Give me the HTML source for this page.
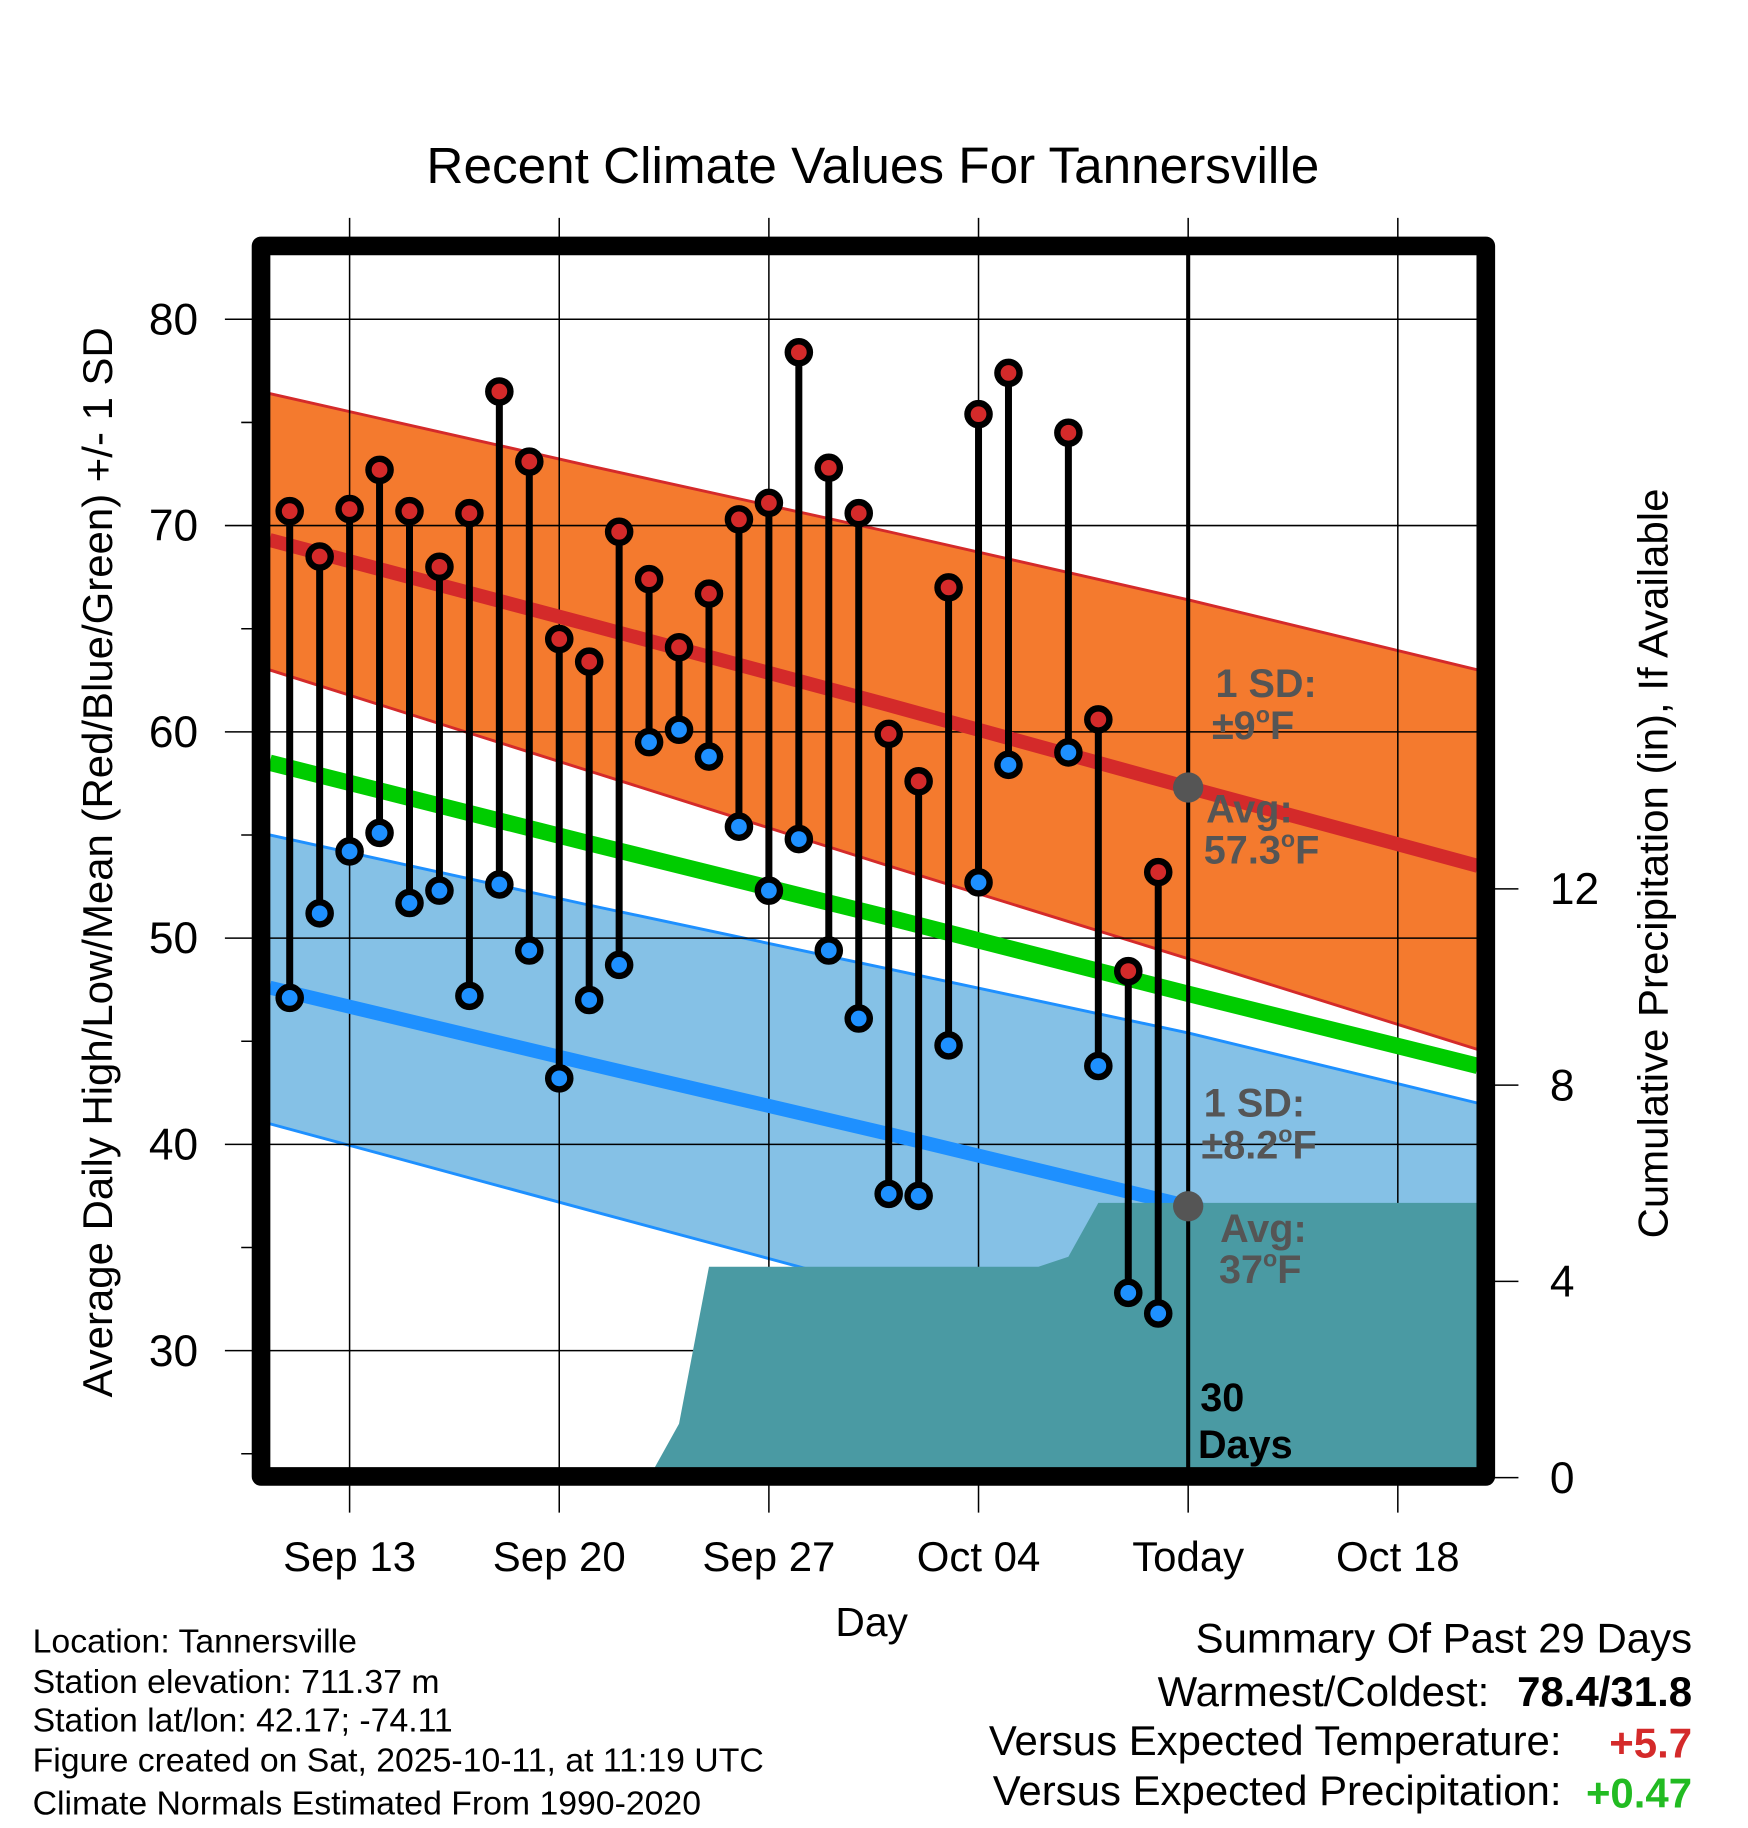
<!DOCTYPE html>
<html><head><meta charset="utf-8">
<style>
html,body{margin:0;padding:0;background:#fff;}
svg{display:block;font-family:"Liberation Sans",Arial,sans-serif;}
</style></head>
<body>
<svg id="chart" width="1748" height="1828" viewBox="0 0 1500 1568.65" xmlns="http://www.w3.org/2000/svg">
<rect x="0" y="0" width="1500" height="1568.65" fill="#fff"/>
<g id="bands"></g>
<g id="grid"></g>
<g id="normlines"></g>
<g id="precip"></g>
<g id="stems"></g>
<g id="overlay"></g>
<text x="749" y="157" font-size="44" text-anchor="middle">Recent Climate Values For Tannersville</text>
<text transform="translate(96,740) rotate(-90)" font-size="36" text-anchor="middle">Average Daily High/Low/Mean (Red/Blue/Green) +/- 1 SD</text>
<text transform="translate(1431,741) rotate(-90)" font-size="36" text-anchor="middle">Cumulative Precipitation (in), If Available</text>
<text x="748" y="1404" font-size="35" text-anchor="middle">Day</text>
<g font-size="29">
<text x="28" y="1418">Location: Tannersville</text>
<text x="28" y="1453">Station elevation: 711.37 m</text>
<text x="28" y="1486">Station lat/lon: 42.17; -74.11</text>
<text x="28" y="1520">Figure created on Sat, 2025-10-11, at 11:19 UTC</text>
<text x="28" y="1557">Climate Normals Estimated From 1990-2020</text>
</g>
<g font-size="36" text-anchor="end">
<text x="1452" y="1418">Summary Of Past 29 Days</text>
<text x="1278" y="1464">Warmest/Coldest:</text>
<text x="1452" y="1464" font-weight="bold">78.4/31.8</text>
<text x="1340" y="1506">Versus Expected Temperature:</text>
<text x="1452" y="1508" font-weight="bold" fill="#d42a2a">+5.7</text>
<text x="1340" y="1549">Versus Expected Precipitation:</text>
<text x="1452" y="1551" font-weight="bold" fill="#22bb22">+0.47</text>
</g>
</svg>
<script>
// ---- data ----
const dayLabels = ["Sep 11","Sep 12","Sep 13","Sep 14","Sep 15","Sep 16","Sep 17","Sep 18","Sep 19","Sep 20","Sep 21","Sep 22","Sep 23","Sep 24","Sep 25","Sep 26","Sep 27","Sep 28","Sep 29","Sep 30","Oct 01","Oct 02","Oct 03","Oct 04","Oct 05","Oct 06","Oct 07","Oct 08","Oct 09","Oct 10"];
const highs = [70.7,68.5,70.8,72.7,70.7,68.0,70.6,76.5,73.1,64.5,63.4,69.7,67.4,64.1,66.7,70.3,71.1,78.4,72.8,70.6,59.9,57.6,67.0,75.4,77.4,null,74.5,60.6,48.4,53.2];
const lows  = [47.1,51.2,54.2,55.1,51.7,52.3,47.2,52.6,49.4,43.2,47.0,48.7,59.5,60.1,58.8,55.4,52.3,54.8,49.4,46.1,37.6,37.5,44.8,52.7,58.4,null,59.0,43.8,32.8,31.8];
const precipCum = [0,0,0,0,0,0,0,0,0,0,0,0,0,1.1,4.3,4.3,4.3,4.3,4.3,4.3,4.3,4.3,4.3,4.3,4.3,4.3,4.5,5.6,5.6,5.6];
// normals at day indices (0 = Sep 11)
const normDays   = [-0.67,10,20,30,39.67];
const normHigh   = [69.3,65.2,61.3,57.3,53.5];
const normHighUp = [76.4,72.9,69.7,66.4,63.0];
const normHighLo = [63.0,58.1,53.5,49.0,44.6];
const normMean   = [58.5,54.6,51.0,47.3,43.8];
const normLow    = [47.6,43.9,40.5,37.0,33.7];
const normLowUp  = [55.0,51.6,48.5,45.4,42.0];
const normLowLo  = [41.0,36.8,32.9,29.0,25.2];
const yTicks = [30,40,50,60,70,80];
const yMinorTicks = [25,35,45,55,65,75];
const pTicks = [0,4,8,12];
const xTickDays = [2,9,16,23,30,37];
const xTickLabels = ["Sep 13","Sep 20","Sep 27","Oct 04","Today","Oct 18"];
const todayIndex = 30;
const todayAvgHigh = 57.3, todayAvgLow = 37.0;

// ---- scales ----
const L=231,R=1268,T=218,B=1260;
const x = d => 248.6 + 25.7*d;
const y = v => 274 + (80 - v)*17.7;
const yp = p => 1268 - p*42.1;
const NS="http://www.w3.org/2000/svg";
function mk(tag, parent, attrs){const e=document.createElementNS(NS,tag);for(const k in attrs)e.setAttribute(k,attrs[k]);document.getElementById(parent).appendChild(e);return e;}
function pts(arr){return normDays.map((d,i)=>x(d).toFixed(1)+","+y(arr[i]).toFixed(1));}

let e;
e=mk('polygon','bands',{points:pts(normHighUp).concat(pts(normHighLo).reverse()).join(' '),fill:'#f47a2e'});


e=mk('polygon','bands',{points:pts(normLowUp).concat(pts(normLowLo).reverse()).join(' '),fill:'#85c1e6'});


[[normHighUp,'#d42a2a'],[normHighLo,'#d42a2a'],[normLowUp,'#1e90ff'],[normLowLo,'#1e90ff']].forEach(([a,c])=>{
  e=mk('polyline','bands',{points:pts(a).join(' '),fill:'none',stroke:c,'stroke-width':2.5});
  
  
});

// grid
yTicks.forEach(v=>{
  e=mk('line','grid',{x1:193,x2:R,y1:y(v),y2:y(v),stroke:'#000','stroke-width':1.3});
  
  
  e=mk('text','grid',{x:170,y:y(v)+13,'font-size':38,'text-anchor':'end'});
  e.textContent=v;
  
  
});
yMinorTicks.forEach(v=>{
  e=mk('line','grid',{x1:207,x2:224,y1:y(v),y2:y(v),stroke:'#000','stroke-width':1.3});
  
  
});
xTickDays.forEach((d,i)=>{
  e=mk('line','grid',{x1:x(d),x2:x(d),y1:187,y2:1298,stroke:'#000','stroke-width':1.3});
  
  
  e=mk('text','grid',{x:x(d),y:1348,'font-size':36,'text-anchor':'middle'});
  e.textContent=xTickLabels[i];
  
  
});
pTicks.forEach(p=>{
  e=mk('line','grid',{x1:1275,x2:1303,y1:yp(p),y2:yp(p),stroke:'#000','stroke-width':1.3});
  
  
  e=mk('text','grid',{x:1330,y:yp(p)+13,'font-size':38});
  e.textContent=p;
  
  
});

// normal lines
[[normHigh,'#d42a2a',12,'normal-high-line'],[normMean,'#00cc00',14,'normal-mean-line'],[normLow,'#1e90ff',12,'normal-low-line']].forEach(([a,c,w,n])=>{
  e=mk('polyline','normlines',{points:pts(a).join(' '),fill:'none',stroke:c,'stroke-width':w});
  
  
});

// precip area
let pp=[x(-0.67).toFixed(1)+","+yp(0)];
precipCum.forEach((p,i)=>pp.push(x(i).toFixed(1)+","+yp(p).toFixed(1)));
pp.push(R+","+yp(precipCum[precipCum.length-1]).toFixed(1));
pp.push(R+","+yp(0));
e=mk('polygon','precip',{points:pp.join(' '),fill:'#4a9aa3'});



// today line
e=mk('line','stems',{x1:x(todayIndex),x2:x(todayIndex),y1:T,y2:B,stroke:'#000','stroke-width':3.5});



// stems
highs.forEach((h,i)=>{
  if(h==null)return;
  const l=lows[i];
  e=mk('line','stems',{x1:x(i),x2:x(i),y1:y(h),y2:y(l),stroke:'#000','stroke-width':6});
  
  
  e=mk('circle','stems',{cx:x(i),cy:y(h),r:9.5,fill:'#d42a2a',stroke:'#000','stroke-width':5.5});
  
  
  e=mk('circle','stems',{cx:x(i),cy:y(l),r:9.5,fill:'#1e90ff',stroke:'#000','stroke-width':5.5});
  
  
});

e=mk('circle','overlay',{cx:x(todayIndex),cy:y(todayAvgHigh),r:13,fill:'#555'});


e=mk('circle','overlay',{cx:x(todayIndex),cy:y(todayAvgLow),r:13,fill:'#555'});



// frame
e=mk('rect','overlay',{x:224,y:211,width:1051,height:1056,fill:'none',stroke:'#000','stroke-width':16,'stroke-linejoin':'round'});



const notes=[
 [1043,598,'1 SD:','#555','high-sd-label'],
 [1040,634,'±9<tspan font-size="20" dy="-14">o</tspan><tspan dy="14">F</tspan>','#555','high-sd-value'],
 [1035,706,'Avg:','#555','high-avg-label'],
 [1033,741,'57.3<tspan font-size="20" dy="-14">o</tspan><tspan dy="14">F</tspan>','#555','high-avg-value'],
 [1033,958,'1 SD:','#555','low-sd-label'],
 [1031,994,'±8.2<tspan font-size="20" dy="-14">o</tspan><tspan dy="14">F</tspan>','#555','low-sd-value'],
 [1047,1066,'Avg:','#555','low-avg-label'],
 [1046,1101,'37<tspan font-size="20" dy="-14">o</tspan><tspan dy="14">F</tspan>','#555','low-avg-value'],
 [1030,1211,'30','#000','days-count'],
 [1028,1251,'Days','#000','days-label']
];
notes.forEach(([nx,ny,t,c,n])=>{
  e=mk('text','overlay',{x:nx,y:ny,'font-size':34,'font-weight':'bold',fill:c});
  e.innerHTML=t;
  
  
});
</script>
</body></html>
